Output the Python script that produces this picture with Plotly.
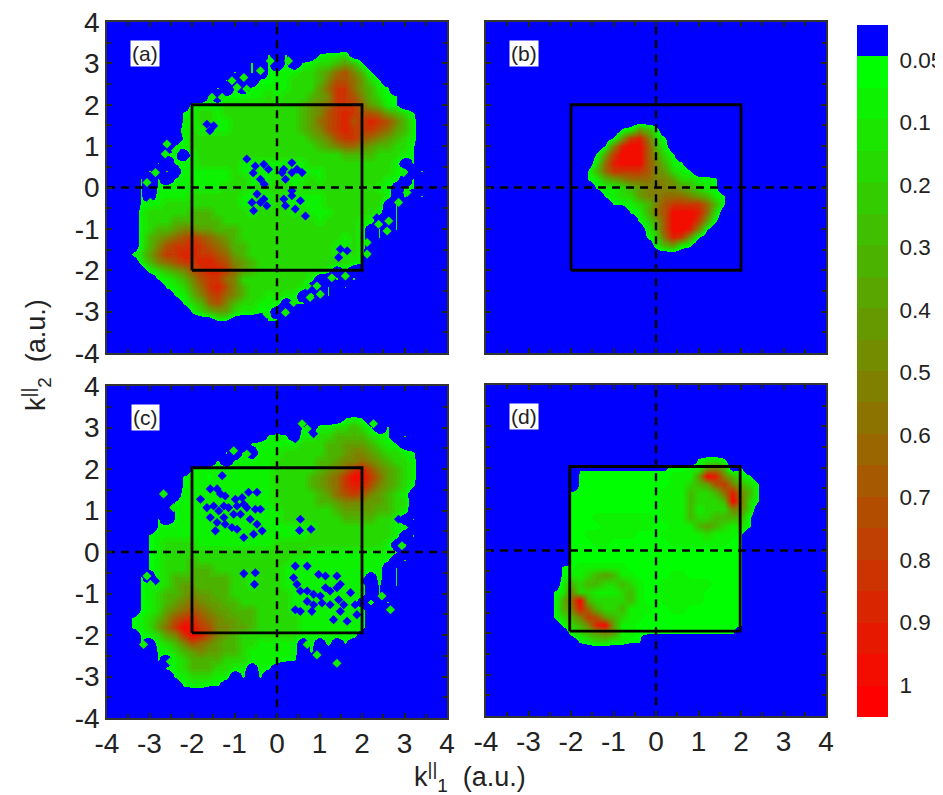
import plotly.graph_objects as go

# Intensity levels on a 0.2 a.u. grid, top row k2=+4 to bottom row k2=-4.
# Groups: k1 -4..-2.2 | -2..-0.2 | 0..1.8 | 2..3.8 | 4.  Short groups continue with "."
# "." is below 0.05, "~" just below 0.05, "0" is 0.05, 1-9 are 0.1-0.9, "X" is 1.
BLANK = ". . . ."
panel_a = [
BLANK, BLANK, BLANK, BLANK,
". .........0 .0...0112. .",
". .......0.0 .0.0122343 0",
". .....0.0.0 0112234675 30",
". ....0.0.00 1122235776 420",
". ...0.0.011 1122246886 4310",
". ..0.001112 1222345887 53200",
". 1111222222 2223456888 64310",
".........0 1221222222 2223457898 7764320",
".........0 1221122222 2223467897 8987531",
".........1 2111122222 2223457898 8876431",
".........0 2222222222 2222345788 7654321",
"........01 2222222222 2222234566 5433220",
".......00. 1222222222 2222222233 3322210",
"......0.01 1222221111 1111222222 22221.0",
".....0.0.1 1111121111 1111112222 222211.0",
"....0.0.01 1111122111 2111212222 22211.0",
"....0.0111 1111222122 2212222222 2211.00",
"....0.1111 2222221111 2111112222 2221.0.0",
"....011222 2222221121 2111112222 222.0",
"....122222 3332222122 2212111222 221.0",
"....122233 3333222222 2222212222 11..0",
"....123345 5443332222 2222222222 1.0.0",
"....134567 8765432222 2222222212 1.0",
"....135788 9876533222 2222222112 1",
"...0246889 9887643222 2222222112 0",
"....135678 8998754322 2222222221 0",
".....12345 7899864322 2222221.0. .",
"......0123 5788652222 22221..0.0 .",
".......012 4689753222 2221..0.0. .",
"........01 3578653221 211.1.0 .",
".........0 2367532211 1.00 .",
". 0234421100 .0 .",
". ...00....0 0 .",
BLANK, BLANK, BLANK, BLANK,
]
panel_b = [
BLANK, BLANK, BLANK, BLANK, BLANK, BLANK, BLANK, BLANK, BLANK, BLANK, BLANK, BLANK, BLANK,
". ......0143 1 .",
". .....04896 20 .",
". ....059XX7 31 .",
". ...048XXX7 420 .",
". ...269XXX7 5310 .",
". ..03688887 54210 0",
". ..01345666 55422110 .",
". ...0112345 55543210 .",
". ....012245 566654310. .",
". .....00123 578888630 .",
". .......013 67XXX962 .",
". ........02 47XXX840 .",
". .........1 37XX950 .",
". .........0 269840 .",
". . 13410 .",
BLANK, BLANK, BLANK, BLANK, BLANK, BLANK, BLANK, BLANK, BLANK, BLANK, BLANK, BLANK, BLANK,
]
panel_c = [
BLANK, BLANK, BLANK, BLANK,
". . ........01 0.",
". . ...0.11223 20.0",
". .........0 10.1122333 3210.0",
". .......011 1112223344 43210",
". ....0.0.11 1222223345 5432210",
". ...0.01111 2222233455 6543221",
". 0111111111 2222234568 9754321",
".........0 1101111111 222234568X X864321",
".........0 1111111111 2222345689 9754320",
".........1 1111111111 2222234678 754321",
"........01 1111111111 2222233455 544322",
"........01 1111111111 1222222344 443321",
"......0.01 1111111111 1222222233 33221.0",
"......0111 1111111111 1111122222 222211",
".....01111 1111111111 1111222222 22221.0",
".....01222 2111111111 2222222222 2221.0",
".....01222 2222222222 2222111111 11110",
".....01222 3222222222 2211111111 1110.0",
".....01222 3332222222 2111111111 111.0",
"....0.1233 3333322122 2111111111 1.1.0",
"....011234 4333322122 2111111111 1.0.0",
"....012334 5443322222 2211111111 1.0",
"....012345 6544332222 2211111111 .1.0",
"....012456 7654433322 2211111111 1",
"...0123578 9765443322 2221111111 1",
"...012468X X875544322 2221111111 1",
"....012458 X975432222 2221111111 .",
"....0.1235 7654332211 111.1.1.0. .",
"......0123 4544332111 111.0 .",
"......0.12 3333222111 100 .",
".......012 3332211.10 . .",
"........01 22211.0.0. . .",
".........0 1100 . .",
BLANK, BLANK, BLANK, BLANK,
]
panel_d = [
BLANK, BLANK, BLANK, BLANK, BLANK, BLANK, BLANK, BLANK, BLANK,
". . .....0110. .",
". .~~~~~~~~~ ~~0011453 0",
". .000000000 001114X953 10",
". .000000000 0011234785 320",
". 0000000000 0111322369 530",
". 0000000000 011132223X 620",
". 0000000000 0111312225 52",
". 0001111111 0111322333 30",
". 0000111111 0011134321 20",
". 0011111100 0111112111 0",
". 0001100000 0011111110 0",
". 0000000000 0000000000 0",
". 0000000000 0000000000 0",
".........0 0111111000 0000000000 0",
".........0 1123431100 0011000000 0",
".........1 3233223210 0111111000 0",
"........01 5221112310 0111110000 0",
"........03 6X32222310 0111110000 0",
"........03 5963223111 0011000000 0",
"........02 3587432110 0000000000 0",
".........0 2359X41100 0000000000 0",
". 1234541100 0000000000 .",
". .01221100. . .",
BLANK, BLANK, BLANK, BLANK, BLANK, BLANK, BLANK, BLANK, BLANK,
]
level_values = {".": -0.2, "~": -0.02, "0": 0.02, "1": 0.08, "2": 0.17, "3": 0.3, "4": 0.4, "5": 0.5,
                "6": 0.6, "7": 0.7, "8": 0.8, "9": 0.9, "X": 1.0}

# Small holes (below 0.05) and isolated islands (a) and (c), as (k1, k2).
holes_a = [(-.71,.69),(-.51,.52),(-.31,.56),(-.2,.44),(-.56,.35),(-.39,.2),(-.3,.08),(.12,.36),(.35,.36),
           (.47,.44),(.35,.6),(.59,.36),(.16,.44),(.2,.2),(-.31,-.28),(-.47,-.16),(-.39,-.36),(-.59,-.36),
           (-.24,-.44),(.16,-.28),(.35,-.2),(.55,-.32),(.43,-.52),(.2,-.44),(.67,-.69),(.35,-.08),(-.55,-.56),
           (-1.49,1.49),(-1.65,1.53),(-1.58,1.37),(1.49,-1.49),(1.65,-1.53),(1.45,-1.69),(2.35,-.73),(2.59,-.85)]
islands_a = [(-1.06,2.58),(-.78,2.66),(-.71,2.38),(-.94,2.42),(-.16,3.06),(.27,3.06),(-.39,2.82),(-1.29,2.18),
             (-1.53,2.18),(-2.12,1.61),(-2.16,1.33),(-2.59,1.05),(-2.39,.89),(-2.63,.81),(-2.86,.36),(-3.06,.12),
             (-2.98,-.36),(1.02,-2.58),(.78,-2.66),(.71,-2.38),(.94,-2.38),(.2,-3.02),(-.24,-3.06),(.39,-2.78),
             (1.29,-2.18),(1.61,-2.14),(2.12,-1.61),(2.12,-1.33),(2.59,-1.05),(2.39,-.89),(2.63,-.81),(2.86,-.36),
             (3.06,-.12),(2.98,.36)]
holes_c = [(-1.29,1.84),(-1.8,1.27),(-1.57,1.52),(-1.41,1.52),(-1.33,1.4),(-1.22,1.35),(-1.65,1.07),(-1.49,1.11),
           (-1.37,.99),(-1.45,.51),(-1.41,.71),(-1.57,.83),(-1.25,.83),(-1.06,.59),(-.94,.55),(-1.02,.91),(-.86,.91),
           (-1.14,1.07),(-.94,1.11),(-.78,1.15),(-.98,1.27),(-.82,1.31),(-.67,1.44),(-.47,1.44),(-.71,1.07),(-.51,1.03),
           (-.39,1.03),(-.63,.79),(-.47,.67),(-.35,.51),(-.55,.43),(-.78,.35),(-1.25,1.11),(-1.22,.67),
           (.43,-.34),(.71,-.34),(.98,-.54),(1.14,-.58),(.55,-.94),(.47,-.78),(.39,-.62),(.86,-1.02),(.71,-.94),
           (1.41,-.58),(1.49,-.78),(1.41,-.86),(1.25,-.94),(1.14,-.86),(1.02,-1.06),(.86,-1.27),(.71,-1.19),(.55,-1.43),
           (.43,-1.39),(.82,-1.43),(1.06,-1.23),(1.25,-1.27),(1.45,-1.15),(1.57,-1.27),(1.49,-1.43),(1.84,-1.27),
           (1.88,-1.51),(1.65,-1.67),(1.33,-1.63),(1.73,-.98),(2.08,-.7),(.55,.79),(.53,.52),(.8,.55),(-.78,-.52),
           (-.51,-.5),(-.53,-.78),(2.86,.79),(-2.86,-.7),(.86,2.85),(.43,2.73),(2.59,-.54)]
islands_c = [(-1.02,2.44),(-.71,2.36),(-2.43,1.07),(-2.67,1.4),(.59,3.09),(.71,2.97),(2.27,3.09),(2.71,2.56),(3.14,2.24),
             (-3.06,-.58),(-2.98,-.78),(-3.14,-2.23),(-2.51,-2.64),(-2.27,-3.0),(1.41,-2.68),(.94,-2.48),(.71,-2.23),
             (2.47,-1.06),(2.67,-1.39),(2.94,.15)]
panel_holes = [holes_a, [], holes_c, []]
panel_islands = [islands_a, [], islands_c, []]

panel_names = ["(a)", "(b)", "(c)", "(d)"]
axis_ticks = [-4, -3, -2, -1, 0, 1, 2, 3, 4]
axis_labels = ["-4", "-3", "-2", "-1", "0", "1", "2", "3", "4"]
bar_ticks = [0, 0.1, 0.2, 0.3, 0.4, 0.5, 0.6, 0.7, 0.8, 0.9, 1.0]
bar_labels = ["0.05", "0.1", "0.2", "0.3", "0.4", "0.5", "0.6", "0.7", "0.8", "0.9", "1"]
box_sides = [
    ([-2, 2, 2, -2, -2], [-2, -2, 2, 2, -2]),
    ([-2, 2, 2, -2, -2], [-2, -2, 2, 2, -2]),
    ([-2, 2, 2, -2, -2], [-1.95, -1.95, 2.03, 2.03, -1.95]),
    ([-2.03, 1.98, 1.98, -2.03, -2.03], [-1.95, -1.95, 2.03, 2.03, -1.95]),
]
FONT = "Liberation Sans, Arial, sans-serif"
OFF = 8  # page margin around the figure
W, H = 943, 795
frames = [(107, 447, 22, 353), (486, 826, 22, 353), (107, 447, 386, 718), (486, 826, 385, 716)]
ZMIN, ZMAX = -0.056, 1.051
BANDS = 22


def fx(px):
    return (px - OFF) / W


def fy(px):
    return 1 - (px - OFF) / H


def grid(rows):
    out = []
    for row in rows:
        cells = "".join(g.ljust(10, ".") for g in row.split())
        cells = cells.ljust(41, ".")[:41]
        out.append([level_values[c] for c in cells])
    return out[::-1]


scale = []
for b in range(BANDS):
    if b == 0:
        color = "rgb(0,0,255)"
    else:
        t = (b - 1) / (BANDS - 2)
        color = f"rgb({round(255*t)},{round(255*(1-t))},0)"
    scale += [[b / BANDS, color], [(b + 1) / BANDS, color]]

fig = go.Figure()
for i, rows in enumerate([panel_a, panel_b, panel_c, panel_d]):
    ref = "" if i == 0 else str(i + 1)
    l, r, t, b = frames[i]
    axes = dict(xaxis="x" + ref, yaxis="y" + ref, showlegend=False, hoverinfo="skip")
    fig.add_trace(go.Heatmap(z=grid(rows), x0=-4, dx=0.2, y0=-4, dy=0.2, zsmooth="best",
                             coloraxis="coloraxis", xaxis="x" + ref, yaxis="y" + ref, hoverinfo="skip"))
    for pts, col in [(panel_holes[i], "rgb(0,0,255)"), (panel_islands[i], "rgb(15,240,0)")]:
        if pts:
            fig.add_trace(go.Scatter(x=[p[0] for p in pts], y=[p[1] for p in pts], mode="markers",
                                     marker=dict(symbol="diamond", size=7, color=col, line_width=0), **axes))
    bx, by = box_sides[i]
    fig.add_trace(go.Scatter(x=bx, y=by, mode="lines", line=dict(color="black", width=2.8), **axes))
    for xs, ys in [([-4, 4], [0, 0]), ([0, 0], [-4.08, 4])]:
        fig.add_trace(go.Scatter(x=xs, y=ys, mode="lines", cliponaxis=False,
                                 line=dict(color="black", width=2.4, dash="8px,6px"), **axes))
    common = dict(range=[-4, 4], tickmode="array", tickvals=axis_ticks, ticktext=axis_labels, ticks="inside",
                  ticklen=5, tickwidth=1.5, tickcolor="#222", showgrid=False, zeroline=False, showline=True,
                  linecolor="#333", linewidth=1.5, mirror="allticks", layer="above traces",
                  ticklabeloverflow="allow", tickfont=dict(family=FONT, size=28, color="#222"),
                  minor=dict(tickmode="array", tickvals=[-3.5, -2.5, -1.5, -0.5, 0.5, 1.5, 2.5, 3.5],
                             ticks="inside", ticklen=4, tickwidth=1.5, tickcolor="#222"))
    fig.update_layout({
        "xaxis" + ref: dict(common, domain=[fx(l), fx(r)], anchor="y" + ref, showticklabels=i >= 2),
        "yaxis" + ref: dict(common, domain=[fy(b), fy(t)], anchor="x" + ref, showticklabels=i in (0, 2)),
    })
    fig.add_annotation(x=-3.1, y=3.25, xref="x" + ref, yref="y" + ref, text=panel_names[i], showarrow=False,
                       bgcolor="white", font=dict(family=FONT, size=21, color="#222"), borderpad=1)

# Colour key: 22 bands, reading downwards from below 0.05 to 1.
band_edges = [ZMIN + k * (ZMAX - ZMIN) / BANDS for k in range(BANDS + 1)]
band_mid = [(band_edges[k] + band_edges[k + 1]) / 2 for k in range(BANDS)]
fig.add_trace(go.Heatmap(z=[[m, m] for m in band_mid], x=[0, 1], y=band_mid, coloraxis="coloraxis",
                         xaxis="x5", yaxis="y5", hoverinfo="skip"))
fig.update_layout(
    xaxis5=dict(domain=[fx(857), fx(888)], anchor="y5", visible=False, range=[-0.5, 1.5]),
    yaxis5=dict(domain=[fy(717), fy(25)], anchor="x5", side="right", range=[ZMAX, ZMIN], tickmode="array",
                tickvals=bar_ticks, ticktext=bar_labels, ticks="outside", ticklen=6, tickcolor="rgba(0,0,0,0)",
                showgrid=False, zeroline=False, showline=False, ticklabeloverflow="allow",
                tickfont=dict(family=FONT, size=22.5, color="#222")),
)

fig.add_annotation(x=fx(36), y=fy(355), xref="paper", yref="paper", textangle=-90, showarrow=False,
                   xanchor="center", yanchor="middle", text="k<sup>||</sup><sub>2</sub>  (a.u.)",
                   font=dict(family=FONT, size=27, color="#222"))
fig.add_annotation(x=fx(470), y=fy(777), xref="paper", yref="paper", showarrow=False,
                   xanchor="center", yanchor="middle", text="k<sup>||</sup><sub>1</sub>  (a.u.)",
                   font=dict(family=FONT, size=27, color="#222"))
fig.update_layout(
    width=W, height=H, paper_bgcolor="white", plot_bgcolor="white", showlegend=False,
    margin=dict(l=0, r=0, t=0, b=0, autoexpand=False),
    coloraxis=dict(cmin=ZMIN, cmax=ZMAX, colorscale=scale, showscale=False),
)
fig.write_html("out.html")
